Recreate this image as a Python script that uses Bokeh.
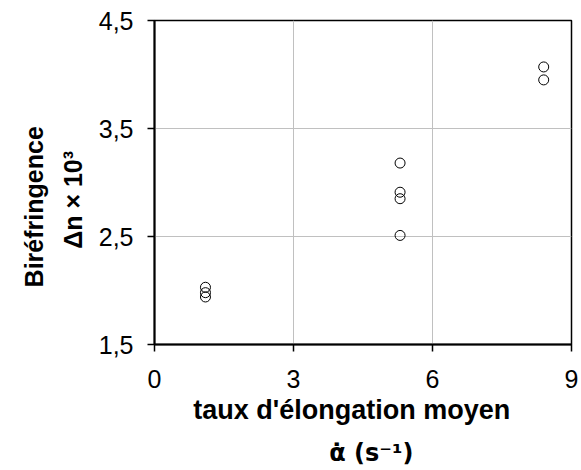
from bokeh.plotting import figure
from bokeh.models import FixedTicker, Range1d, LinearAxis
from bokeh.embed import file_html
from bokeh.resources import INLINE

# data
x_vals = [1.1, 1.1, 1.1, 5.3, 5.3, 5.3, 5.3, 8.4, 8.4]
y_vals = [2.03, 1.98, 1.94, 3.18, 2.91, 2.85, 2.51, 4.07, 3.95]
x_ticks = [0, 3, 6, 9]
y_ticks = [1.5, 2.5, 3.5, 4.5]
y_tick_labels = ["1,5", "2,5", "3,5", "4,5"]
x_title_1 = "taux d'élongation moyen"
x_title_2 = "α̇  (s⁻¹)"
y_title_1 = "Biréfringence"
y_title_2 = "Δn × 10³"

NB = "\u00a0"  # non-breaking space, used to nudge a title along its axis
W, H = 578, 470
L, R, T, B = 154, 571, 20, 344  # frame edges in page pixels

p = figure(width=W, height=H, output_backend="svg", toolbar_location=None,
           x_range=Range1d(0, 9), y_range=Range1d(1.5, 4.5),
           min_border_left=L, min_border_right=W - R,
           min_border_top=T, min_border_bottom=H - B)

p.scatter(x_vals, y_vals, marker="circle", size=10, fill_color=None,
          line_color="black", line_width=1)

font = "Liberation Sans"
p.xaxis.ticker = FixedTicker(ticks=x_ticks)
p.yaxis.ticker = FixedTicker(ticks=y_ticks)
p.yaxis.major_label_overrides = {t: l for t, l in zip(y_ticks, y_tick_labels)}
for ax in (p.xaxis, p.yaxis):
    ax.axis_line_width = 2
    ax.axis_line_color = "black"
    ax.major_tick_line_color = "black"
    ax.major_tick_line_width = 1.5
    ax.major_tick_out = 7
    ax.major_tick_in = 0
    ax.minor_tick_line_color = None
    ax.major_label_text_font = font
    ax.major_label_text_font_size = "25px"
    ax.major_label_text_color = "black"
    ax.axis_label_text_font = font
    ax.axis_label_text_font_style = "bold"
    ax.axis_label_text_color = "black"
p.xaxis.major_label_standoff = 18
p.yaxis.major_label_standoff = 14

p.xaxis.axis_label = x_title_1 + NB * 3
p.xaxis.axis_label_text_font_size = "27px"
p.xaxis.axis_label_standoff = 4
p.yaxis.axis_label = y_title_2 + NB * 5
p.yaxis.axis_label_text_font_size = "25px"
p.yaxis.axis_label_standoff = 9


def title_axis(text, size, standoff, fnt):
    ax = LinearAxis(ticker=FixedTicker(ticks=[]), axis_line_color=None,
                    major_tick_line_color=None, minor_tick_line_color=None,
                    major_tick_out=0, major_tick_in=0, major_label_standoff=0,
                    axis_label=text, axis_label_text_font=fnt,
                    axis_label_text_font_style="bold",
                    axis_label_text_font_size=f"{size}px",
                    axis_label_text_color="black",
                    axis_label_standoff=standoff)
    return ax


p.add_layout(title_axis(NB * 3 + x_title_2, 24, 11, "DejaVu Sans"), "below")
p.add_layout(title_axis(y_title_1 + NB * 7, 25, 8, font), "left")

p.xgrid.ticker = FixedTicker(ticks=x_ticks)
p.ygrid.ticker = FixedTicker(ticks=y_ticks)
p.grid.grid_line_color = "#c0c0c0"
p.grid.grid_line_width = 1

p.outline_line_color = "black"
p.outline_line_width = 1.5
p.background_fill_color = "white"
p.border_fill_color = "white"

open("out.html", "w").write(file_html(p, INLINE))
